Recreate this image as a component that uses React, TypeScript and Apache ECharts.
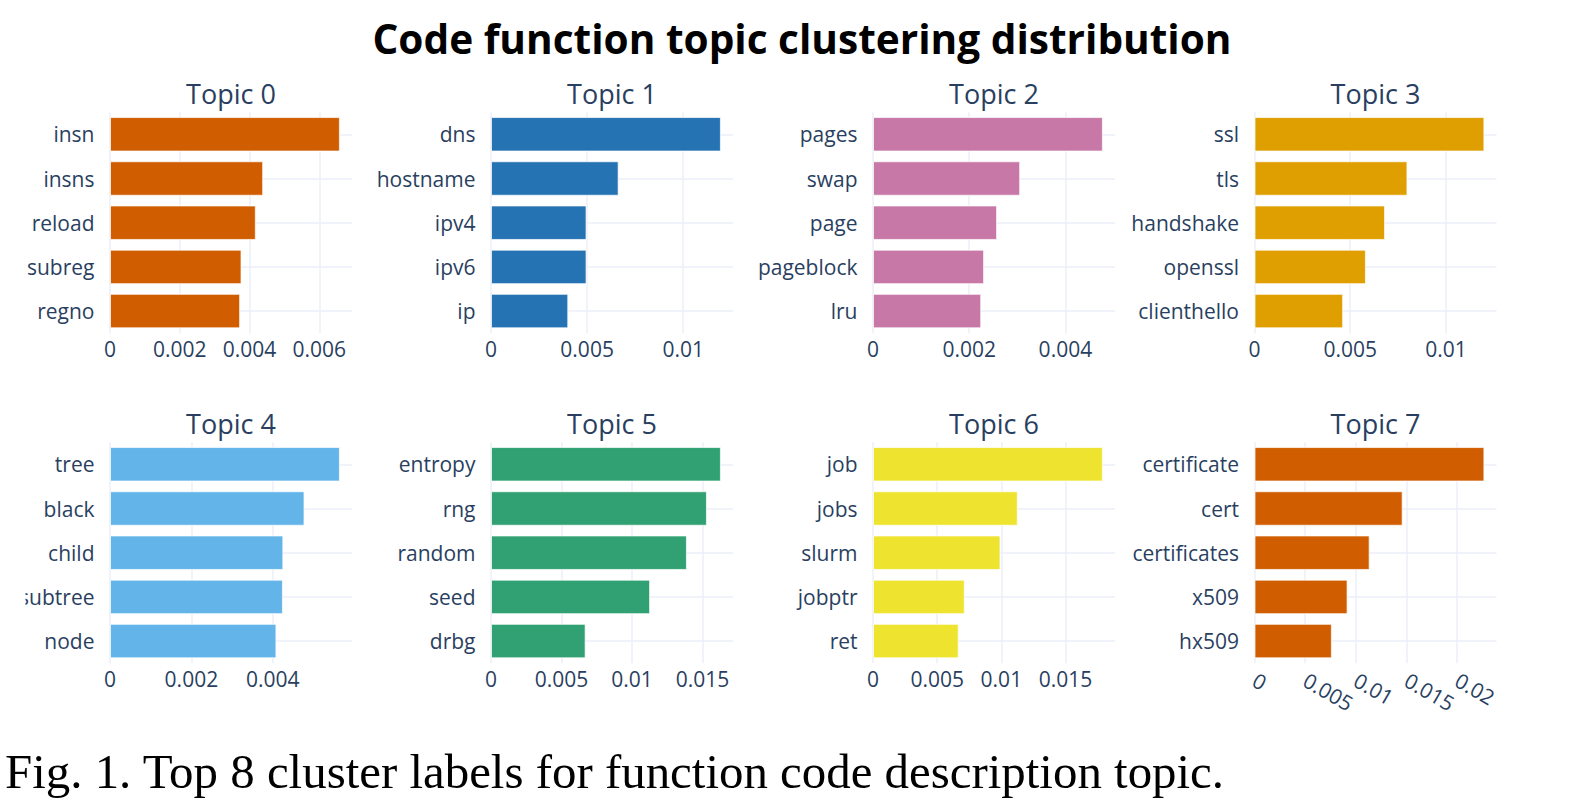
import React, { useEffect, useRef } from 'react';
import * as echarts from 'echarts';

// ---------- data ----------
const chartTitle = 'Code function topic clustering distribution';
const captionText = 'Fig. 1. Top 8 cluster labels for function code description topic.';
const topicTitles = ['Topic 0', 'Topic 1', 'Topic 2', 'Topic 3', 'Topic 4', 'Topic 5', 'Topic 6', 'Topic 7'];

const topic0Words = ['insn', 'insns', 'reload', 'subreg', 'regno'];
const topic0Scores = [0.00659, 0.00439, 0.00418, 0.00377, 0.00373];
const topic1Words = ['dns', 'hostname', 'ipv4', 'ipv6', 'ip'];
const topic1Scores = [0.01196, 0.00664, 0.00497, 0.00497, 0.00402];
const topic2Words = ['pages', 'swap', 'page', 'pageblock', 'lru'];
const topic2Scores = [0.00478, 0.00306, 0.00258, 0.00231, 0.00225];
const topic3Words = ['ssl', 'tls', 'handshake', 'openssl', 'clienthello'];
const topic3Scores = [0.01201, 0.00799, 0.00682, 0.00582, 0.00463];
const topic4Words = ['tree', 'black', 'child', 'subtree', 'node'];
const topic4Scores = [0.00565, 0.00478, 0.00426, 0.00425, 0.00409];
const topic5Words = ['entropy', 'rng', 'random', 'seed', 'drbg'];
const topic5Scores = [0.0163, 0.01531, 0.01389, 0.01128, 0.00671];
const topic6Words = ['job', 'jobs', 'slurm', 'jobptr', 'ret'];
const topic6Scores = [0.01791, 0.01128, 0.00993, 0.00715, 0.00668];
const topic7Words = ['certificate', 'cert', 'certificates', 'x509', 'hx509'];
const topic7Scores = [0.0227, 0.01463, 0.01137, 0.00919, 0.00764];

const topicWords = [topic0Words, topic1Words, topic2Words, topic3Words, topic4Words, topic5Words, topic6Words, topic7Words];
const topicScores = [topic0Scores, topic1Scores, topic2Scores, topic3Scores, topic4Scores, topic5Scores, topic6Scores, topic7Scores];
const tickIntervals = [0.002, 0.005, 0.002, 0.005, 0.002, 0.005, 0.005, 0.005];
const topicColors = ['#D05E00', '#2573B2', '#C778A7', '#E09F00', '#63B4E8', '#31A072', '#EEE42F', '#D05E00'];

// ---------- layout ----------
const COL_LEFT = [110, 491, 873, 1254.5];
const ROW_TOP = [112.2, 442.2];
const PLOT_W = 242;
const PLOT_H = 221;
const SUBTITLE_Y = [93.8, 423.8];
const TICK_COLOR = '#2a3f5f';
const GRID_COLOR = '#EBF0F8';
const SANS = '"Open Sans", sans-serif';

function fmt(v: number) {
  return String(+Number(v).toFixed(4));
}

export default function App() {
  const ref = useRef<HTMLDivElement>(null);

  useEffect(() => {
    if (!ref.current) return;
    const chart = echarts.init(ref.current, null, { renderer: 'svg' });

    const grids: any[] = [];
    const xAxes: any[] = [];
    const yAxes: any[] = [];
    const series: any[] = [];
    const graphics: any[] = [];

    topicTitles.forEach((t, i) => {
      const col = i % 4;
      const row = Math.floor(i / 4);
      const left = COL_LEFT[col];
      const top = ROW_TOP[row];
      const maxVal = Math.max(...topicScores[i]);
      const rotated = i === 7;
      grids.push({ left, top, width: PLOT_W, height: PLOT_H, containLabel: false });
      xAxes.push({
        type: 'value',
        gridIndex: i,
        min: 0,
        max: maxVal / 0.95,
        interval: tickIntervals[i],
        axisLine: { show: false },
        axisTick: { show: false },
        splitLine: { show: true, showMaxLine: false, lineStyle: { color: GRID_COLOR, width: 1.5 } },
        axisLabel: {
          color: TICK_COLOR,
          fontFamily: SANS,
          fontSize: 21,
          margin: rotated ? 15 : 5,
          rotate: rotated ? -30 : 0,
          showMaxLabel: false,
          formatter: (v: number) => fmt(v),
        },
      });
      yAxes.push({
        type: 'category',
        gridIndex: i,
        inverse: true,
        data: topicWords[i],
        axisLine: { show: false },
        axisTick: { show: false },
        splitLine: { show: true, alignWithLabel: true, lineStyle: { color: GRID_COLOR, width: 1.5 } },
        axisLabel: { color: TICK_COLOR, fontFamily: SANS, fontSize: 21, margin: 15.5, interval: 0 },
      });
      series.push({
        type: 'bar',
        name: t,
        xAxisIndex: i,
        yAxisIndex: i,
        data: topicScores[i],
        barCategoryGap: '22%',
        itemStyle: { color: topicColors[i], borderColor: 'rgba(255,255,255,0.7)', borderWidth: 1 },
        silent: true,
      });
      graphics.push({
        type: 'text',
        x: left + PLOT_W / 2,
        y: SUBTITLE_Y[row],
        style: {
          text: t,
          fill: TICK_COLOR,
          fontFamily: SANS,
          fontSize: 27,
          align: 'center',
          verticalAlign: 'middle',
        },
      });
    });

    // the original figure is cropped at its left edge (clips the "s" of "subtree")
    graphics.push({
      type: 'rect',
      z: 100,
      shape: { x: 0, y: 575, width: 25.5, height: 34 },
      style: { fill: '#ffffff' },
    });

    graphics.push({
      type: 'text',
      x: 802,
      y: 38,
      style: {
        text: chartTitle,
        fill: '#000',
        fontFamily: SANS,
        fontWeight: 'bold',
        fontSize: 40.6,
        align: 'center',
        verticalAlign: 'middle',
      },
    });
    graphics.push({
      type: 'text',
      x: 5,
      y: 771.6,
      style: {
        text: captionText,
        fill: '#000',
        fontFamily: '"Liberation Serif", "Times New Roman", serif',
        fontSize: 48.9,
        align: 'left',
        verticalAlign: 'middle',
      },
    });

    chart.setOption({
      animation: false,
      backgroundColor: '#ffffff',
      grid: grids,
      xAxis: xAxes,
      yAxis: yAxes,
      series,
      graphic: { elements: graphics },
    });

    return () => chart.dispose();
  }, []);

  return (
    <div
      ref={ref}
      style={{ position: 'fixed', left: 0, top: 0, width: 1584, height: 800, background: '#fff' }}
    />
  );
}
